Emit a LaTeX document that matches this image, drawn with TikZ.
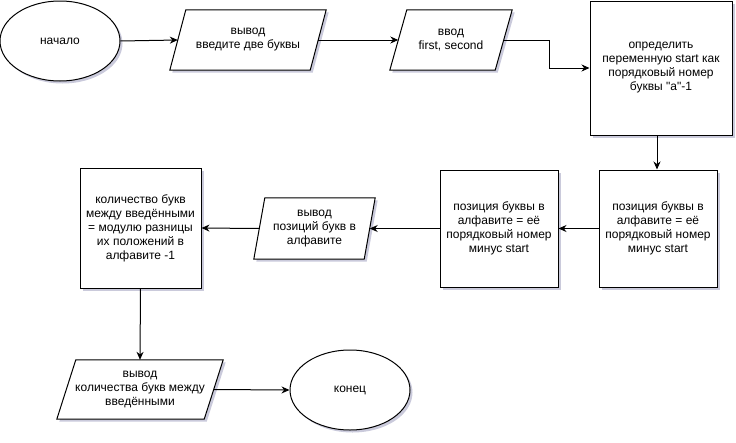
\documentclass[tikz,border=0pt]{standalone}
\usepackage{fontspec}
\setmainfont{Liberation Sans}
\usetikzlibrary{shapes.geometric,arrows.meta,shadows,calc}
\begin{document}
\begin{tikzpicture}[x=1pt,y=-1pt,
  every node/.style={font=\fontsize{12}{14}\selectfont, align=center, inner sep=0pt},
  shad/.style={drop shadow={shadow xshift=2.5pt, shadow yshift=-2.5pt, fill=blue!20!gray, opacity=0.35}},
  term/.style={ellipse, draw, line width=1pt, fill=white, minimum width=120pt, minimum height=80pt, shad},
  proc/.style={rectangle, draw, line width=1pt, fill=white, shad},
  iobox/.style={rectangle, draw=none},
  ioshape/.style={draw, line width=1pt, fill=white, shad},
  arr/.style={draw, line width=1pt, -{Stealth[length=8pt,width=7pt]}}
]
\useasboundingbox (0,0) rectangle (736,442);

% start / end
\node[term] (start) at (60,41) {начало};
\node[term] (fin) at (350,390) {конец};

% parallelograms (node boxes, shapes drawn below)
\node[iobox, minimum width=156pt, minimum height=60pt] (p1) at (248,40) {};
\node[iobox, minimum width=122pt, minimum height=60pt] (p2) at (451,40) {};
\node[iobox, minimum width=121pt, minimum height=61pt] (p3) at (314.5,228.5) {};
\node[iobox, minimum width=166pt, minimum height=59pt] (p4) at (140,389.5) {};

\draw[ioshape] ($(p1.north west)+(16,0)$) -- (p1.north east) -- ($(p1.south east)+(-16,0)$) -- (p1.south west) -- cycle;
\draw[ioshape] ($(p2.north west)+(17,0)$) -- (p2.north east) -- ($(p2.south east)+(-17,0)$) -- (p2.south west) -- cycle;
\draw[ioshape] ($(p3.north west)+(11,0)$) -- (p3.north east) -- ($(p3.south east)+(-11,0)$) -- (p3.south west) -- cycle;
\draw[ioshape] ($(p4.north west)+(19,0)$) -- (p4.north east) -- ($(p4.south east)+(-19,0)$) -- (p4.south west) -- cycle;

\node at (p1) {вывод\\введите две буквы};
\node at (p2) {ввод\\first, second};
\node at (p3) {вывод\\позиций букв в\\алфавите};
\node at (p4) {вывод\\количества букв между\\введёнными};

\coordinate (p1L) at ($(p1.west)+(8,0)$);
\coordinate (p1R) at ($(p1.east)+(-8,0)$);
\coordinate (p2L) at ($(p2.west)+(8.5,0)$);
\coordinate (p2R) at ($(p2.east)+(-8.5,0)$);
\coordinate (p3L) at ($(p3.west)+(5.5,0)$);
\coordinate (p3R) at ($(p3.east)+(-5.5,0)$);
\coordinate (p4R) at ($(p4.east)+(-9.5,0)$);

% process boxes
\node[proc, minimum width=142pt, minimum height=134pt] (b1) at (661,68)
  {определить\\переменную start как\\порядковый номер\\буквы \textquotedbl a\textquotedbl -1};
\node[proc, minimum width=118pt, minimum height=117pt] (b2) at (658,228.5)
  {позиция буквы в\\алфавите = её\\порядковый номер\\минус start};
\node[proc, minimum width=118pt, minimum height=117pt] (b3) at (499,228.5)
  {позиция буквы в\\алфавите = её\\порядковый номер\\минус start};
\node[proc, minimum width=121pt, minimum height=120pt] (b4) at (140.5,228)
  {количество букв\\между введёнными\\= модулю разницы\\их положений в\\алфавите -1};

% connectors
\draw[arr] (start.east) -- (p1L);
\draw[arr] (p1R) -- (p2L);
\draw[arr] (p2R) -| ([xshift=-40pt]b1.west) |- (b1.west);
\draw[arr] (b1.south -| 657,0) -- (b2.north -| 657,0);
\draw[arr] (b2.west) -- (b3.east);
\draw[arr] (b3.west) -- (p3R);
\draw[arr] (p3L) -- (b4.east);
\draw[arr] (b4.south) -- (p4.north);
\draw[arr] (p4R) -- (fin.west);
\end{tikzpicture}
\end{document}
